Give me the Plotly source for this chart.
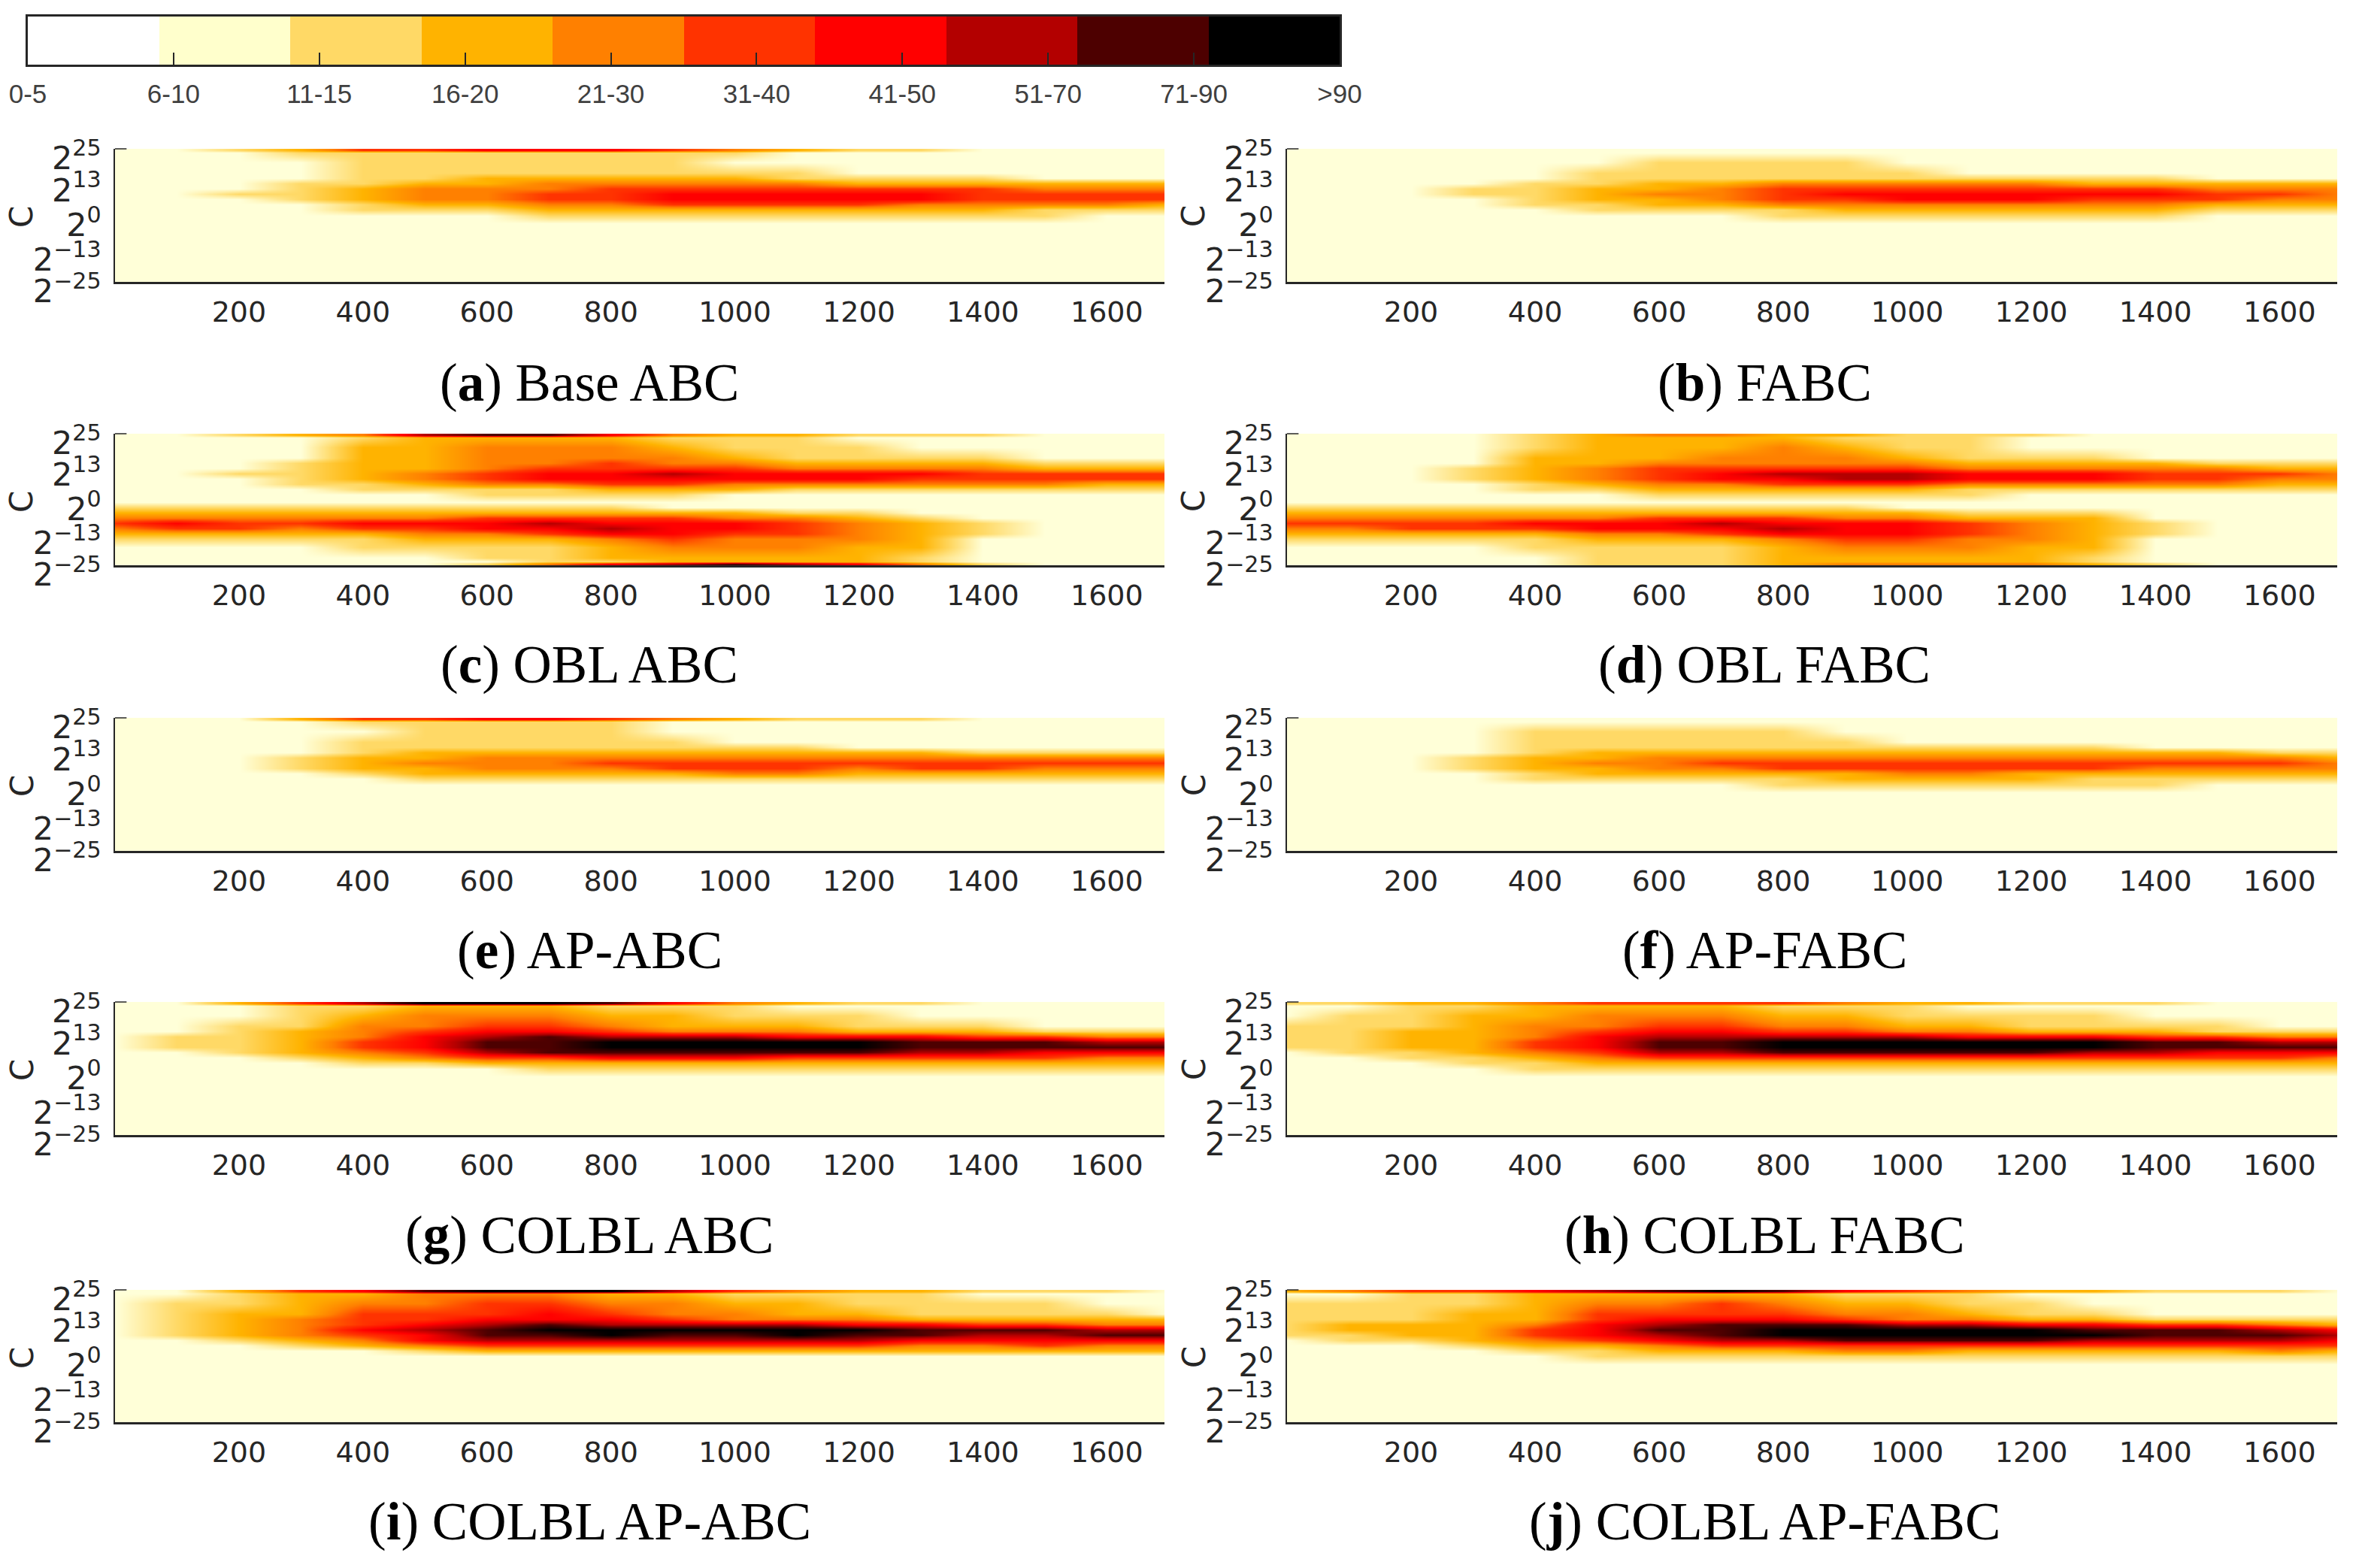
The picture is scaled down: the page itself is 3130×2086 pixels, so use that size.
import plotly.graph_objects as go

CLASS_LABELS = ["0-5", "6-10", "11-15", "16-20", "21-30", "31-40", "41-50", "51-70", "71-90", ">90"]
CLASS_COLORS = ["#FFFFFF", "#FFFFCC", "#FFD966", "#FFB300", "#FF8000", "#FF3300", "#FF0000", "#B30000", "#4D0000", "#000000"]
PANEL_COLORS = ["#FFFFFF", "#FFFFD8", "#FFD966", "#FFB300", "#FF8000", "#FF3300", "#FF0000", "#B30000", "#4D0000", "#000000"]
CLASS_INDEX = list(range(10))
X_NODES = [0, 100, 200, 300, 400, 500, 600, 700, 800, 900, 1000, 1100, 1200, 1300, 1400, 1500, 1600, 1700]
Y_ONE = [24.5, 23.5, 20, 16, 14, 12, 10, 8, 6, 4, 2, 0, -3, -25]
Y_TWO = [24.5, 23.5, 20, 16, 14, 12, 10, 8, 6, 4, 2, -1, -3, -5, -7, -9, -11, -13, -15, -18, -22, -23.5, -24.5]
Y_TICKS = [-25, -13, 0, 13, 25]
Y_TICK_TEXT = ["2<sup>\u221225</sup>", "2<sup>\u221213</sup>", "2<sup>0</sup>", "2<sup>13</sup>", "2<sup>25</sup>"]
X_TICKS = [200, 400, 600, 800, 1000, 1200, 1400, 1600]

# Estimated colour class (0-9) at each C row (top to bottom) and iteration column
BASE_ABC = [
    [1,1,2,3,5,5,6,6,6,5,4,3,2,2,1,1,1,1],
    [1,1,1,2,2,2,2,2,2,2,2,1,1,1,1,1,1,1],
    [1,1,1,1,2,2,2,2,2,2,1,1,1,1,1,1,1,1],
    [1,1,1,1,2,2,2,2,2,2,2,2,1,1,1,1,1,1],
    [1,1,1,1,2,2,3,3,3,3,3,2,2,2,2,1,1,1],
    [1,1,1,2,2,3,3,4,4,4,4,4,3,3,3,3,3,3],
    [1,1,1,2,3,4,4,4,5,5,5,5,5,5,5,4,4,4],
    [1,1,2,2,3,4,4,5,5,6,6,6,6,6,5,5,5,5],
    [1,1,1,2,3,4,4,5,5,6,6,6,6,6,5,5,5,5],
    [1,1,1,1,2,3,3,4,4,5,5,5,5,4,4,4,4,3],
    [1,1,1,1,2,2,2,3,3,3,3,3,3,3,3,2,2,2],
    [1,1,1,1,1,1,1,2,2,2,2,2,2,2,2,2,1,1],
    [1,1,1,1,1,1,1,1,1,1,1,1,1,1,1,1,1,1],
    [1,1,1,1,1,1,1,1,1,1,1,1,1,1,1,1,1,1],
]
FABC = [
    [1,1,1,1,1,1,1,1,1,1,1,1,1,1,1,1,1,1],
    [1,1,1,1,1,1,1,1,1,1,1,1,1,1,1,1,1,1],
    [1,1,1,1,1,1,2,2,2,2,1,1,1,1,1,1,1,1],
    [1,1,1,1,1,2,2,2,2,2,2,1,1,1,1,1,1,1],
    [1,1,1,1,1,2,2,2,2,2,2,2,2,2,2,1,1,1],
    [1,1,1,1,2,2,3,3,4,4,4,4,4,3,3,3,3,3],
    [1,1,1,2,2,3,3,4,5,5,5,5,5,5,5,4,4,4],
    [1,1,1,2,2,3,4,4,5,6,6,6,6,6,6,5,5,4],
    [1,1,1,1,2,3,3,4,5,5,6,6,6,5,5,5,4,4],
    [1,1,1,1,2,2,3,3,4,4,4,4,4,4,4,3,3,3],
    [1,1,1,1,1,2,2,2,2,3,3,3,3,3,3,2,2,2],
    [1,1,1,1,1,1,1,1,2,2,2,2,2,2,2,1,1,1],
    [1,1,1,1,1,1,1,1,1,1,1,1,1,1,1,1,1,1],
    [1,1,1,1,1,1,1,1,1,1,1,1,1,1,1,1,1,1],
]
OBL_ABC = [
    [1,1,2,3,4,7,8,8,6,4,3,3,2,2,2,1,1,1],
    [1,1,1,1,2,3,3,3,3,2,2,2,1,1,1,1,1,1],
    [1,1,1,1,3,3,4,4,4,3,2,2,2,1,1,1,1,1],
    [1,1,1,1,3,3,4,4,4,4,3,2,2,2,2,1,1,1],
    [1,1,1,2,3,3,4,4,5,4,4,3,3,3,3,2,2,2],
    [1,1,1,2,3,3,4,5,5,5,5,4,4,4,4,3,3,3],
    [1,1,2,2,3,4,5,6,6,7,6,6,6,6,5,5,5,5],
    [1,1,1,2,3,4,5,6,6,6,6,6,6,5,5,5,5,5],
    [1,1,1,2,2,3,4,4,5,5,4,4,4,4,4,4,3,3],
    [1,1,1,1,2,2,2,2,3,3,3,2,2,2,2,2,2,2],
    [1,1,1,1,1,1,2,2,2,2,1,1,1,1,1,1,1,1],
    [1,1,1,1,1,1,1,1,1,1,1,1,1,1,1,1,1,1],
    [2,2,2,2,2,2,2,2,2,1,1,1,1,1,1,1,1,1],
    [3,3,3,3,3,3,3,3,3,3,3,2,2,1,1,1,1,1],
    [4,4,4,4,4,4,5,5,5,5,4,4,3,2,1,1,1,1],
    [5,6,5,5,6,6,6,7,6,6,6,5,4,3,2,1,1,1],
    [4,5,5,4,5,5,6,6,7,6,6,5,4,3,2,1,1,1],
    [3,3,3,3,3,4,4,5,6,6,5,5,4,3,2,1,1,1],
    [2,2,2,2,2,3,3,3,4,5,4,4,4,3,1,1,1,1],
    [1,1,1,1,2,2,2,2,3,4,4,4,3,3,1,1,1,1],
    [1,1,1,1,1,1,2,2,3,3,3,3,3,2,1,1,1,1],
    [1,1,1,1,1,1,1,2,2,3,3,3,3,2,1,1,1,1],
    [1,1,1,1,1,1,2,4,6,7,8,7,6,4,2,1,1,1],
]
OBL_FABC = [
    [1,1,1,1,2,3,4,4,3,3,2,2,2,1,1,1,1,1],
    [1,1,1,1,2,3,3,3,3,2,2,2,1,1,1,1,1,1],
    [1,1,1,1,2,3,3,3,4,3,2,2,1,1,1,1,1,1],
    [1,1,1,1,3,3,3,4,4,4,3,2,2,2,1,1,1,1],
    [1,1,1,1,3,3,4,4,4,4,4,3,3,3,3,2,2,2],
    [1,1,1,2,3,4,5,5,5,5,5,4,4,4,4,4,3,3],
    [1,1,1,2,3,4,5,6,7,7,7,6,6,6,5,5,5,4],
    [1,1,1,2,3,4,5,6,6,7,7,6,6,6,5,5,4,4],
    [1,1,1,1,2,3,4,4,5,5,5,4,4,4,4,4,3,3],
    [1,1,1,1,2,2,3,3,3,3,3,2,2,2,2,2,2,2],
    [1,1,1,1,1,1,2,2,2,2,2,2,1,1,1,1,1,1],
    [1,1,1,1,1,1,1,1,1,1,1,1,1,1,1,1,1,1],
    [2,2,2,2,2,2,2,2,2,2,1,1,1,1,1,1,1,1],
    [3,3,3,3,3,3,3,3,3,3,3,2,2,2,1,1,1,1],
    [4,4,4,4,4,4,5,5,5,4,4,3,3,3,1,1,1,1],
    [5,5,5,5,6,6,6,7,6,6,6,5,4,3,2,1,1,1],
    [4,4,5,5,5,6,6,6,7,6,6,5,4,3,2,1,1,1],
    [3,3,3,3,3,4,4,5,6,6,6,5,4,3,2,1,1,1],
    [2,2,2,2,2,3,3,3,4,5,5,4,4,3,1,1,1,1],
    [1,1,1,1,2,2,2,2,3,4,4,4,3,3,1,1,1,1],
    [1,1,1,1,1,2,2,2,3,3,3,3,3,2,1,1,1,1],
    [1,1,1,1,1,2,2,2,3,3,3,3,3,2,1,1,1,1],
    [1,1,1,1,1,2,2,2,3,4,4,4,4,3,2,1,1,1],
]
AP_ABC = [
    [1,1,1,3,5,5,6,6,5,4,3,2,2,2,1,1,1,1],
    [1,1,1,1,2,2,2,2,2,1,1,1,1,1,1,1,1,1],
    [1,1,1,1,1,2,2,2,2,1,1,1,1,1,1,1,1,1],
    [1,1,1,1,2,2,2,2,2,2,1,1,1,1,1,1,1,1],
    [1,1,1,1,2,2,2,2,2,2,2,2,1,1,1,1,1,1],
    [1,1,1,1,2,3,3,3,3,3,3,3,3,3,2,2,2,2],
    [1,1,1,2,3,3,4,4,4,4,4,4,4,4,4,4,4,4],
    [1,1,1,2,3,4,4,4,5,5,5,5,5,5,5,5,5,5],
    [1,1,1,2,3,3,4,4,4,5,5,5,4,5,5,4,4,4],
    [1,1,1,1,2,3,3,3,3,3,4,4,3,3,3,3,3,3],
    [1,1,1,1,1,2,2,2,2,2,2,2,2,2,2,2,2,2],
    [1,1,1,1,1,1,1,1,1,1,1,1,1,1,1,1,1,1],
    [1,1,1,1,1,1,1,1,1,1,1,1,1,1,1,1,1,1],
    [1,1,1,1,1,1,1,1,1,1,1,1,1,1,1,1,1,1],
]
AP_FABC = [
    [1,1,1,1,1,1,1,1,1,1,1,1,1,1,1,1,1,1],
    [1,1,1,1,1,1,1,1,1,1,1,1,1,1,1,1,1,1],
    [1,1,1,1,2,2,2,2,2,1,1,1,1,1,1,1,1,1],
    [1,1,1,1,2,2,2,2,2,2,1,1,1,1,1,1,1,1],
    [1,1,1,1,2,2,2,2,2,2,2,2,2,2,1,1,1,1],
    [1,1,1,1,2,3,3,3,3,3,3,3,3,3,3,3,2,2],
    [1,1,1,2,3,3,4,4,4,4,4,4,4,4,4,4,4,3],
    [1,1,1,2,3,4,4,5,5,5,5,5,5,5,5,5,5,4],
    [1,1,1,2,3,3,4,4,5,5,5,5,5,5,4,4,4,4],
    [1,1,1,1,2,3,3,3,3,3,4,4,3,3,3,3,3,3],
    [1,1,1,1,2,2,2,2,2,3,3,3,3,2,2,2,2,2],
    [1,1,1,1,1,1,1,1,2,2,2,2,2,2,2,1,1,1],
    [1,1,1,1,1,1,1,1,1,1,1,1,1,1,1,1,1,1],
    [1,1,1,1,1,1,1,1,1,1,1,1,1,1,1,1,1,1],
]
COLBL_ABC = [
    [1,1,3,5,7,9,9,9,8,6,4,3,2,2,1,1,1,1],
    [1,1,1,2,2,3,3,3,2,2,2,1,1,1,1,1,1,1],
    [1,1,1,2,3,4,4,4,3,3,2,2,2,1,1,1,1,1],
    [1,1,2,2,4,4,5,5,4,3,3,3,2,2,2,1,1,1],
    [1,1,2,3,4,5,6,6,5,4,4,4,3,3,3,2,2,2],
    [1,2,2,3,4,6,7,8,7,7,7,6,6,6,5,5,4,4],
    [1,2,2,3,5,6,8,8,9,9,9,9,9,8,8,8,7,7],
    [1,2,2,3,5,6,8,8,9,9,9,9,9,8,8,8,8,8],
    [1,1,2,3,4,5,7,8,8,8,8,8,8,7,7,6,6,6],
    [1,1,1,2,3,4,5,5,6,6,6,5,5,5,5,5,4,4],
    [1,1,1,1,2,2,3,3,3,3,3,3,3,3,3,3,3,3],
    [1,1,1,1,1,1,1,2,2,2,2,2,2,2,2,2,2,2],
    [1,1,1,1,1,1,1,1,1,1,1,1,1,1,1,1,1,1],
    [1,1,1,1,1,1,1,1,1,1,1,1,1,1,1,1,1,1],
]
COLBL_FABC = [
    [2,2,3,3,4,5,5,5,5,4,3,3,2,2,2,1,1,1],
    [1,1,2,2,3,3,3,3,2,2,2,1,1,1,1,1,1,1],
    [1,2,2,3,3,4,4,4,3,3,2,2,2,2,1,1,1,1],
    [2,2,2,3,4,4,5,5,4,4,3,3,2,2,2,2,1,1],
    [2,2,3,3,4,5,6,6,5,5,4,4,3,3,3,2,2,2],
    [2,2,3,3,4,6,7,7,7,7,7,6,6,6,5,5,4,4],
    [2,2,3,3,5,6,8,8,9,9,9,9,9,9,8,8,7,7],
    [2,2,3,3,5,6,8,8,9,9,9,9,9,9,8,8,8,8],
    [1,2,2,3,4,5,7,7,8,8,8,8,8,7,7,6,6,6],
    [1,1,2,2,3,4,5,5,5,5,5,5,5,5,5,5,5,4],
    [1,1,1,2,2,3,3,3,3,3,3,3,3,3,3,3,3,3],
    [1,1,1,1,2,2,2,2,2,2,2,2,2,2,2,2,2,2],
    [1,1,1,1,1,1,1,1,1,1,1,1,1,1,1,1,1,1],
    [1,1,1,1,1,1,1,1,1,1,1,1,1,1,1,1,1,1],
]
COLBL_AP_ABC = [
    [1,1,3,5,6,8,9,9,9,7,5,4,3,3,2,2,2,1],
    [1,1,2,3,3,4,4,4,3,3,2,2,2,2,1,1,1,1],
    [1,2,2,3,4,4,5,5,4,4,3,3,2,2,2,2,1,1],
    [1,2,3,3,5,5,5,6,5,4,4,3,3,2,2,2,2,1],
    [1,2,3,4,5,5,6,6,6,5,4,4,4,3,3,3,3,3],
    [1,2,3,4,5,6,7,8,7,7,7,7,6,6,5,5,4,4],
    [1,2,3,4,6,7,8,9,9,9,9,9,9,8,8,8,7,7],
    [1,2,3,4,5,6,8,8,9,8,8,9,8,8,7,7,8,8],
    [1,1,2,3,4,6,7,7,7,7,7,7,7,6,6,6,6,6],
    [1,1,1,2,3,4,5,5,5,5,5,5,5,4,4,5,4,4],
    [1,1,1,1,1,2,3,3,3,3,3,3,3,3,3,3,3,3],
    [1,1,1,1,1,1,1,1,1,1,1,1,1,1,1,1,1,1],
    [1,1,1,1,1,1,1,1,1,1,1,1,1,1,1,1,1,1],
    [1,1,1,1,1,1,1,1,1,1,1,1,1,1,1,1,1,1],
]
COLBL_AP_FABC = [
    [3,4,5,5,6,7,8,9,8,6,5,4,3,3,2,2,2,1],
    [1,1,2,2,3,3,3,3,3,2,2,2,1,1,1,1,1,1],
    [2,2,2,2,3,4,4,5,4,3,3,2,2,1,1,1,1,1],
    [2,2,2,3,3,5,5,5,5,4,4,3,2,2,1,1,1,1],
    [2,2,2,3,3,5,6,6,6,5,4,4,3,3,2,2,2,2],
    [2,3,3,3,4,6,7,8,8,8,7,7,6,6,5,5,4,3],
    [2,3,3,3,5,6,8,8,9,9,9,9,9,8,8,8,7,6],
    [2,2,3,3,5,6,7,8,9,9,9,9,9,9,8,8,8,7],
    [1,2,2,3,4,5,6,7,7,8,8,8,8,7,7,7,7,6],
    [1,1,1,2,3,3,4,5,5,5,5,5,5,5,5,5,5,5],
    [1,1,1,1,2,2,3,3,3,4,4,3,3,3,3,3,4,3],
    [1,1,1,1,1,2,2,2,2,2,2,2,2,2,2,2,2,2],
    [1,1,1,1,1,1,1,1,1,1,1,1,1,1,1,1,1,1],
    [1,1,1,1,1,1,1,1,1,1,1,1,1,1,1,1,1,1],
]

PANELS = [
    ("a", "Base ABC", BASE_ABC, Y_ONE), ("b", "FABC", FABC, Y_ONE),
    ("c", "OBL ABC", OBL_ABC, Y_TWO), ("d", "OBL FABC", OBL_FABC, Y_TWO),
    ("e", "AP-ABC", AP_ABC, Y_ONE), ("f", "AP-FABC", AP_FABC, Y_ONE),
    ("g", "COLBL ABC", COLBL_ABC, Y_ONE), ("h", "COLBL FABC", COLBL_FABC, Y_ONE),
    ("i", "COLBL AP-ABC", COLBL_AP_ABC, Y_ONE), ("j", "COLBL AP-FABC", COLBL_AP_FABC, Y_ONE),
]

W, H = 3130, 2086
COLUMNS = [(153, 1549, 784), (1712, 3109, 2347)]
ROWS = [(198, 375, 509), (577, 752, 885), (955, 1132, 1264), (1333, 1510, 1643), (1716, 1892, 2024)]
TEXT = "#262626"

n = len(CLASS_COLORS)
# Legend strip: one flat colour per class.  Panels: same colours, blended between class centres.
stepped = []
for i, c in enumerate(CLASS_COLORS):
    stepped += [[i / n, c], [(i + 1) / n, c]]
blended = [[i / (n - 1), c] for i, c in enumerate(PANEL_COLORS)]

fig = go.Figure()
layout = dict(
    width=W, height=H, margin=dict(l=0, r=0, t=0, b=0, pad=0, autoexpand=False),
    paper_bgcolor="white", plot_bgcolor="white", showlegend=False,
    font=dict(family="DejaVu Sans", color=TEXT), annotations=[], shapes=[],
)
for k, (letter, name, grid, ys) in enumerate(PANELS):
    col = COLUMNS[k % 2]
    row = ROWS[k // 2]
    idx = k + 2
    fig.add_trace(go.Heatmap(
        x=X_NODES, y=ys, z=grid,
        zmin=0, zmax=n - 1, colorscale=blended, zsmooth="best", showscale=False,
        xaxis=f"x{idx}", yaxis=f"y{idx}", hoverinfo="skip",
    ))
    layout[f"xaxis{idx}"] = dict(
        domain=[col[0] / W, col[1] / W], range=[0, 1693], anchor=f"y{idx}",
        tickvals=X_TICKS, ticks="", ticklabelstandoff=4, showgrid=False, zeroline=False,
        showline=True, linecolor=TEXT, linewidth=3,
        tickfont=dict(family="DejaVu Sans", size=38, color=TEXT),
    )
    layout[f"yaxis{idx}"] = dict(
        domain=[1 - row[1] / H, 1 - row[0] / H], range=[-25, 25], anchor=f"x{idx}",
        tickvals=Y_TICKS, ticktext=Y_TICK_TEXT, ticks="", ticklabelstandoff=8, ticklabelshift=12,
        showgrid=False, zeroline=False, showline=True, linecolor=TEXT, linewidth=1.5,
        tickfont=dict(family="DejaVu Sans", size=43, color=TEXT),
    )
    layout["annotations"].append(dict(
        xref="paper", yref="paper", x=col[2] / W, y=1 - row[2] / H, showarrow=False,
        xanchor="center", yanchor="middle",
        text=f"(<b>{letter}</b>) {name}",
        font=dict(family="Liberation Serif", size=71, color="black"),
    ))
    layout["annotations"].append(dict(
        xref="paper", yref="paper", x=(col[0] - 124) / W, y=1 - (row[0] + 90) / H, showarrow=False,
        xanchor="center", yanchor="middle", textangle=-90, text="C",
        font=dict(family="DejaVu Sans", size=42, color=TEXT),
    ))
    layout["shapes"].append(dict(
        type="line", xref=f"x{idx} domain", yref=f"y{idx} domain",
        x0=0, x1=0.011, y0=1, y1=1, line=dict(color=TEXT, width=1.5),
    ))

fig.add_trace(go.Heatmap(
    x=[i + 0.5 for i in CLASS_INDEX], y=[0], z=[[i + 0.5 for i in CLASS_INDEX]],
    zmin=0, zmax=n, colorscale=stepped, showscale=False, xaxis="x", yaxis="y", hoverinfo="skip",
))
layout["xaxis"] = dict(
    domain=[37 / W, 1782 / W], range=[0, n], anchor="y",
    tickvals=[i * n / (n - 1) for i in CLASS_INDEX], ticktext=CLASS_LABELS,
    ticks="inside", ticklen=16, tickwidth=1.5, tickcolor=TEXT, ticklabelstandoff=6,
    showgrid=False, zeroline=False, showline=True, mirror=True, linecolor=TEXT, linewidth=3,
    tickfont=dict(family="Liberation Sans", size=35, color="#404040"),
)
layout["yaxis"] = dict(
    domain=[1 - 86 / H, 1 - 22 / H], range=[-0.5, 0.5], anchor="x",
    showticklabels=False, ticks="", showgrid=False, zeroline=False,
    showline=True, mirror=True, linecolor=TEXT, linewidth=3,
)
fig.update_layout(**layout)
fig.write_html("out.html", config={"displayModeBar": False},
               post_script="document.body.style.margin='0';")
